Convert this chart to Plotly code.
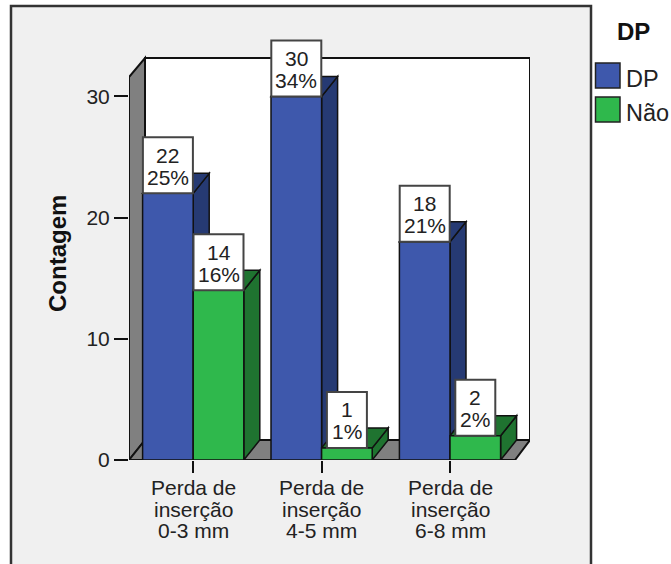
import plotly.graph_objects as go

categories = ["Perda de inserção 0-3 mm", "Perda de inserção 4-5 mm", "Perda de inserção 6-8 mm"]
category_lines = [["Perda de", "inserção", "0-3 mm"], ["Perda de", "inserção", "4-5 mm"], ["Perda de", "inserção", "6-8 mm"]]
dp_counts = [22, 30, 18]
nao_counts = [14, 1, 2]
dp_pct = ["25%", "34%", "21%"]
nao_pct = ["16%", "1%", "2%"]
series_names = ["DP", "Não"]
y_ticks = [0, 10, 20, 30]

W, H = 671, 564
L, R, T, B = 129, 530, 30, 460
WALL_TOP = 58
PX_PER_UNIT = 12.12
PX_PER_CAT = 128.4
FONT = "Liberation Sans"
TXT = "#222222"
BLUE, BLUE_D = "#3E58AC", "#263A73"
GREEN, GREEN_D = "#2FB84C", "#1F7330"
GREY = "#808080"
EDGE = "#111111"

x_min = -0.5
x_max = x_min + (R - L) / PX_PER_CAT
y_max = (B - T) / PX_PER_UNIT
wall_top = (B - WALL_TOP) / PX_PER_UNIT
dx = 16 / PX_PER_CAT
dy = 20 / PX_PER_UNIT
bar_w = 50.6 / PX_PER_CAT
box_h = 56 / PX_PER_UNIT


def px(p):
    return (p - L) / (R - L)


def py(p):
    return (B - p) / (B - T)


def path(points):
    return "M " + " L ".join(f"{a},{b}" for a, b in points) + " Z"


def poly(points, fill, lw=2.0, layer="below"):
    return dict(type="path", xref="x", yref="y", path=path(points), fillcolor=fill,
                line=dict(color=EDGE, width=lw), layer=layer)


shapes = [
    # chart frame
    dict(type="rect", xref="paper", yref="paper", x0=px(11), x1=px(591), y0=py(6), y1=py(600),
         fillcolor="#F0F0F0", line=dict(color="#333333", width=2.5), layer="below"),
]
x_front_end = x_min + (515 - L) / PX_PER_CAT
# back wall, left wall, floor
shapes.append(poly([(x_min + dx, dy), (x_min + dx, wall_top), (x_max, wall_top), (x_max, dy)], "#FFFFFF"))
shapes.append(poly([(x_min, 0), (x_min, wall_top - dy * 0.95), (x_min + dx, wall_top), (x_min + dx, dy)], GREY))
shapes.append(poly([(x_min, 0), (x_min + dx, dy), (x_max, dy), (x_front_end, 0)], GREY))

# side and top faces of the bars
for vals, offset, dark in ((dp_counts, -bar_w, BLUE_D), (nao_counts, 0, GREEN_D)):
    for i, v in enumerate(vals):
        left, right = i + offset, i + offset + bar_w
        shapes.append(poly([(right, 0), (right + dx, dy), (right + dx, v + dy), (right, v)], dark, 1.5))
        shapes.append(poly([(left, v), (left + dx, v + dy), (right + dx, v + dy), (right, v)], dark, 1.5))

annotations = []


def text(x, y, s, xref="x", yref="y", size=20, yshift=0, bold=False, angle=0, xanchor="center", family=FONT, color=TXT):
    annotations.append(dict(x=x, y=y, xref=xref, yref=yref, text=f"<b>{s}</b>" if bold else s, showarrow=False,
                            xanchor=xanchor, yanchor="middle", yshift=yshift, textangle=angle,
                            font=dict(family=family, size=size, color=color)))


# value label boxes
for vals, pcts, offset in ((dp_counts, dp_pct, -bar_w / 2), (nao_counts, nao_pct, bar_w / 2)):
    for i, (v, p) in enumerate(zip(vals, pcts)):
        cx = i + offset
        half = (25 if len(p) == 3 else 20) / PX_PER_CAT
        shapes.append(dict(type="rect", xref="x", yref="y", x0=cx - half, x1=cx + half, y0=v, y1=v + box_h,
                           fillcolor="#FFFFFF", line=dict(color="#444444", width=2), layer="above"))
        text(cx, v, str(v), yshift=38, size=21)
        text(cx, v, p, yshift=16, size=21)

# category labels
for i, lines in enumerate(category_lines):
    for line, p in zip(lines, (487, 509, 530)):
        text(i, py(p), line, yref="paper", size=21)

# axis title
text(px(57), py(254), "Contagem", xref="paper", yref="paper", size=24, bold=True, angle=-90, color="#111111")

# legend
text(px(633), py(32), series_names[0], xref="paper", yref="paper", size=24, bold=True, color="#111111")
for name, color, top in zip(series_names, (BLUE, GREEN), (63, 97)):
    shapes.append(dict(type="rect", xref="paper", yref="paper", x0=px(595.5), x1=px(620), y0=py(top), y1=py(top + 25),
                       fillcolor=color, line=dict(color="#222222", width=1.5), layer="above"))
    text(px(624), py(top + 16), name, xref="paper", yref="paper", size=23.5, xanchor="left")

fig = go.Figure()
for name, vals, color in zip(series_names, (dp_counts, nao_counts), (BLUE, GREEN)):
    fig.add_trace(go.Bar(x=list(range(len(categories))), y=vals, name=name, marker=dict(color=color, line=dict(color=EDGE, width=1.5)),
                         hovertext=categories))

fig.update_layout(
    width=W, height=H, autosize=False, showlegend=False,
    margin=dict(l=L, r=W - R, t=T, b=H - B, pad=0),
    paper_bgcolor="#FFFFFF", plot_bgcolor="rgba(0,0,0,0)",
    barmode="group", bargap=1 - 2 * bar_w, bargroupgap=0,
    shapes=shapes, annotations=annotations,
    xaxis=dict(range=[x_min, x_max], tickmode="array", tickvals=[0, 1, 2], ticktext=["", "", ""], ticks="outside",
               ticklen=12, tickwidth=2, tickcolor=EDGE, showgrid=False, zeroline=False, showline=False),
    yaxis=dict(range=[0, y_max], tickmode="array", tickvals=y_ticks, ticks="outside", ticklen=14, tickwidth=2,
               tickcolor=EDGE, showgrid=False, zeroline=False, showline=False,
               tickfont=dict(family=FONT, size=21, color=TXT)),
)
fig.write_html("out.html", config={"displayModeBar": False},
               post_script="document.body.style.margin='0';document.documentElement.style.overflow='hidden';")
